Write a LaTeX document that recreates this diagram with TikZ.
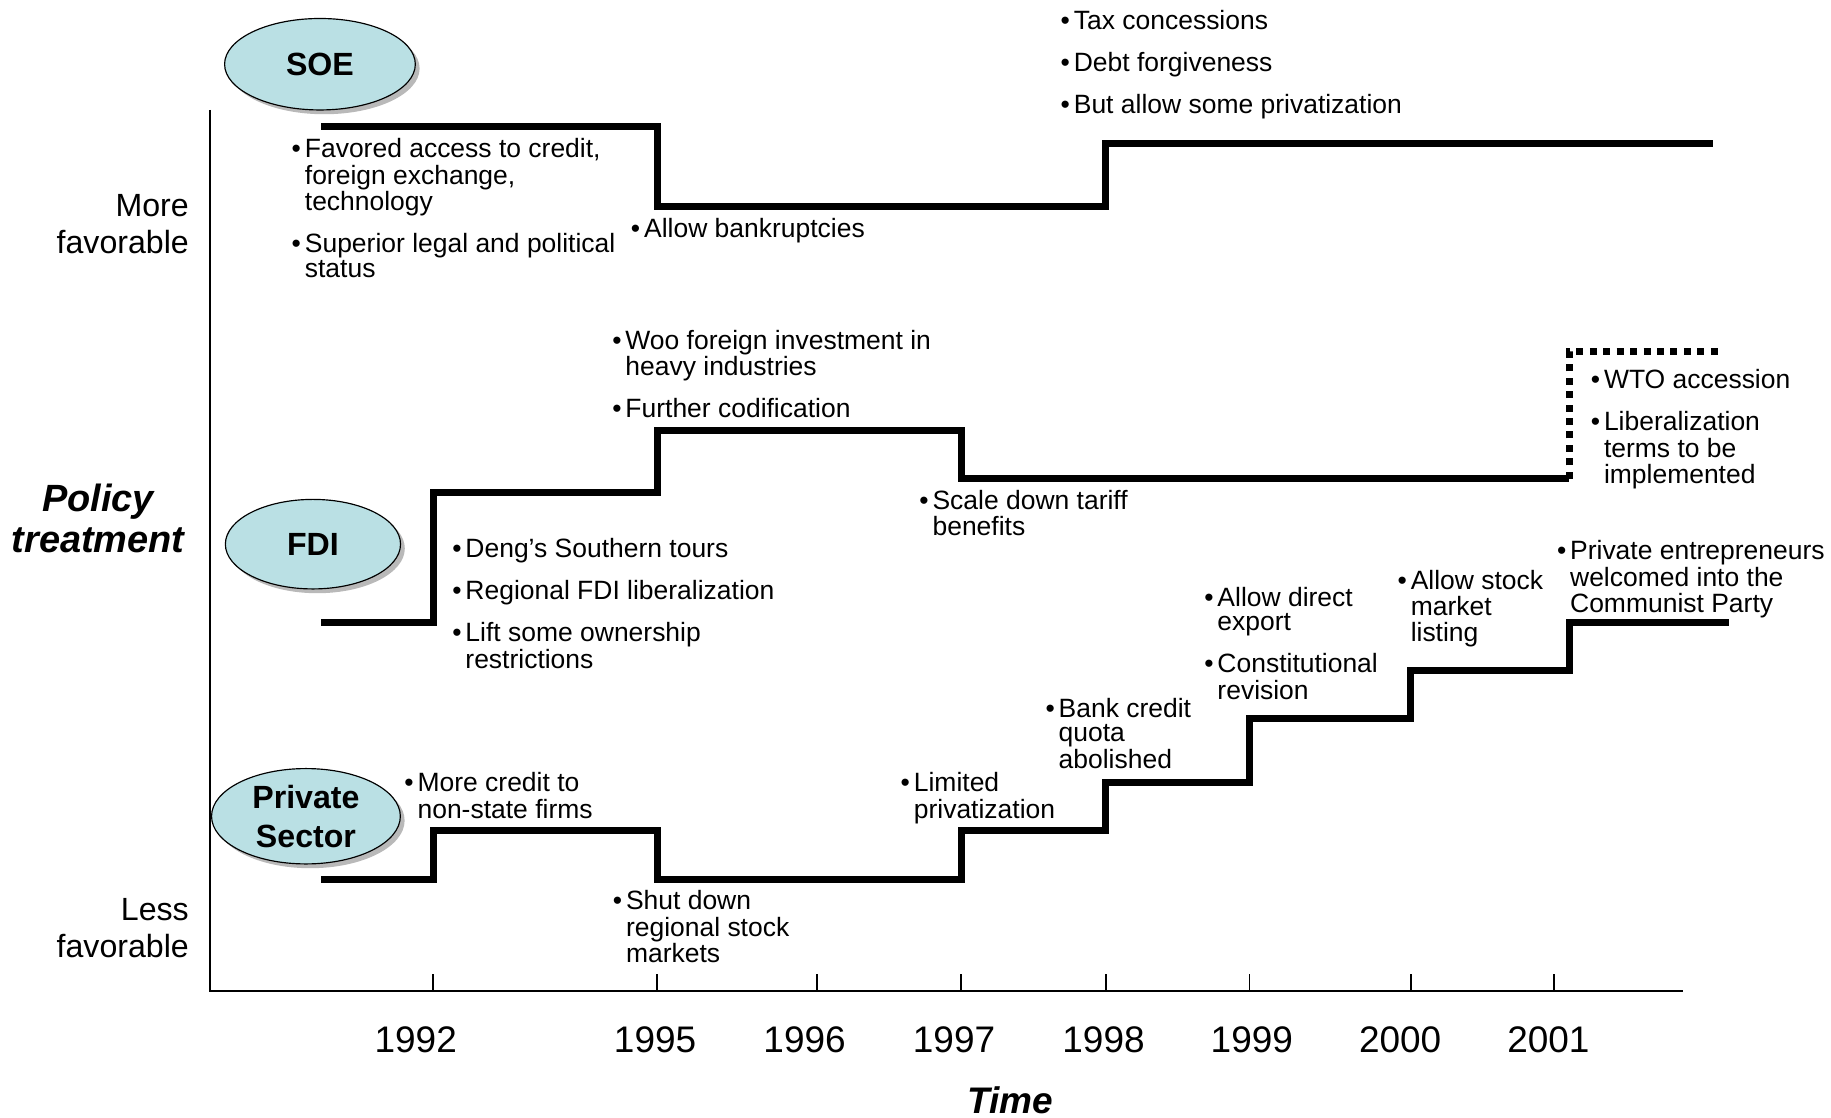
\documentclass[tikz,border=0pt]{standalone}
\usepackage{fontspec}
\setmainfont{Liberation Sans}
\usepackage{xcolor}
\usetikzlibrary{shapes.geometric,shadows}

\definecolor{bubble}{RGB}{186,224,228}

% one bullet list, rows: bullet & line
\newcommand{\blist}[1]{\begin{tabular}[t]{@{}l@{\hspace{2pt}}l@{}}#1\end{tabular}}

\begin{document}
\begin{tikzpicture}[
  x=0.6pt, y=-0.6pt,
  note/.style={anchor=base west, inner sep=0pt, font=\fontsize{13.6}{12.4}\selectfont},
  side/.style={anchor=east, inner sep=0pt, align=right, font=\fontsize{16.5}{18.8}\selectfont},
  year/.style={inner sep=0pt, font=\fontsize{19}{22}\selectfont},
  sector/.style={ellipse, draw, line width=0.6pt, fill=bubble, align=center,
    inner sep=0pt, font=\fontsize{16.5}{19.8}\selectfont\bfseries,
    drop shadow={shadow xshift=2.2pt, shadow yshift=-2.2pt, fill=black!55}},
  stair/.style={line width=3.6pt, line join=miter},
  axis/.style={line width=1pt}
]
\useasboundingbox (0,0) rectangle (1568,957);

% Axes
\coordinate (top) at (180,94);
\coordinate (origin) at (180,849);
\coordinate (end) at (1441,849);
\draw[axis] (top) -- (origin) -- (end);
\foreach \tx in {371,563,700,823,947,1070,1208,1331}
  \draw[axis] (\tx,849) -- (\tx,834);
\foreach \yx/\yr in {356/1992,561/1995,689/1996,817/1997,945/1998,1072/1999,1199/2000,1326/2001}
  \node[year] (y\yr) at (\yx,890) {\yr};
\node[inner sep=0pt, font=\fontsize{19}{22}\selectfont\bfseries\itshape] (time) at (865,942) {Time};
\node[side] (more) at (162,192) {More\\favorable};
\node[side] (less) at (162,795) {Less\\favorable};
\node[inner sep=0pt, align=center, font=\fontsize{19.5}{20.6}\selectfont\bfseries\itshape] (policy) at (84,444) {Policy\\treatment};

% SOE
\node[sector, minimum width=98pt, minimum height=47pt] (soe) at (274,55) {SOE};
\draw[stair] (275,108) -- (563,108) -- (563,177) -- (947,177) -- (947,122.5) -- (1467,122.5);
\node[note] (soeA) at (249.5,135) {\blist{\textbullet & Favored access to credit,\\ & foreign exchange,\\ & technology\\[8.2pt]
  \textbullet & Superior legal and political\\ & status}};
\node[note] (soeB) at (540,203.5) {\blist{\textbullet & Allow bankruptcies}};
\node[note] (soeC) at (908,25) {\blist{\textbullet & Tax concessions\\[8.2pt] \textbullet & Debt forgiveness\\[8.2pt]
  \textbullet & But allow some privatization}};

% FDI
\node[sector, minimum width=90pt, minimum height=46pt] (fdi) at (268,466) {FDI};
\draw[stair] (275,533) -- (371,533) -- (371,422) -- (563,422) -- (563,369) -- (823,369) -- (823,410) -- (1344,410);
\draw[stair, dash pattern=on 3.6pt off 3.3pt] (1344,410) -- (1344,301) -- (1472,301);
\node[note] (fdiA) at (387,477) {\blist{\textbullet & Deng's Southern tours\\[8.2pt] \textbullet & Regional FDI liberalization\\[8.2pt]
  \textbullet & Lift some ownership\\ & restrictions}};
\node[note] (fdiB) at (524,299) {\blist{\textbullet & Woo foreign investment in\\ & heavy industries\\[8.2pt]
  \textbullet & Further codification}};
\node[note] (fdiC) at (787,436) {\blist{\textbullet & Scale down tariff\\ & benefits}};
\node[note] (fdiD) at (1362,332.5) {\blist{\textbullet & WTO accession\\[8.2pt] \textbullet & Liberalization\\ & terms to be\\ & implemented}};

% Private sector
\node[sector, minimum width=97pt, minimum height=49pt] (priv) at (262,699) {Private\\Sector};
\draw[stair] (275,753) -- (371,753) -- (371,711) -- (563,711) -- (563,753) -- (823,753) -- (823,711) -- (947,711)
  -- (947,670) -- (1070,670) -- (1070,615) -- (1208,615) -- (1208,574) -- (1344,574) -- (1344,533) -- (1481,533);
\node[note] (prA) at (346,678) {\blist{\textbullet & More credit to\\ & non-state firms}};
\node[note] (prB) at (524.5,779) {\blist{\textbullet & Shut down\\ & regional stock\\ & markets}};
\node[note] (prC) at (771,678) {\blist{\textbullet & Limited\\ & privatization}};
\node[note] (prD) at (895,614.5) {\blist{\textbullet & Bank credit\\ & quota\\ & abolished}};
\node[note] (prE) at (1031,519) {\blist{\textbullet & Allow direct\\ & export\\[8.2pt] \textbullet & Constitutional\\ & revision}};
\node[note] (prF) at (1196.5,504.5) {\blist{\textbullet & Allow stock\\ & market\\ & listing}};
\node[note] (prG) at (1333,479.5) {\blist{\textbullet & Private entrepreneurs\\ & welcomed into the\\ & Communist Party}};
\end{tikzpicture}
\end{document}
